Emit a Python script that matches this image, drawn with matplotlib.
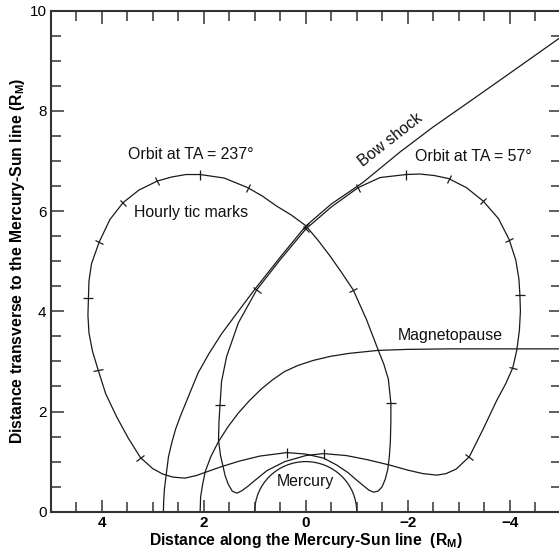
import matplotlib
matplotlib.use("Agg")
import matplotlib.pyplot as plt
import numpy as np
from matplotlib import font_manager
from matplotlib.markers import MarkerStyle
from matplotlib.patches import Arc
from matplotlib.transforms import Affine2D


def have_font(name):
    try:
        font_manager.findfont(font_manager.FontProperties(family=name), fallback_to_default=False)
        return True
    except ValueError:
        return False


NARROW = have_font("Liberation Sans Narrow")
if NARROW:
    FONT, NOTE_SIZE, LABEL_SIZE = "Liberation Sans Narrow", 13.4, 13.3
else:
    FONT, NOTE_SIZE, LABEL_SIZE = "Liberation Sans", 11.4, 11.3
TICK_FONT = "Liberation Sans"

plt.rcParams["mathtext.fontset"] = "custom"
plt.rcParams["mathtext.rm"] = FONT
plt.rcParams["mathtext.bf"] = FONT + ":bold"

LINE = "#1a1a1a"
AXC = "#333333"

# orbit at TA = 237 deg (dayside apoapsis)
ta237_x = [2.07, 2.35, 2.63, 2.91, 3.27, 3.58, 3.84, 4.05, 4.20, 4.25, 4.26, 4.27, 4.25,
           4.18, 4.07, 3.92, 3.71, 3.48, 3.24, 3.00, 2.80, 2.60, 2.37, 2.15, 1.90, 1.65,
           1.30, 0.90, 0.37, 0.00, -0.35, -0.61, -0.83, -1.00, -1.13, -1.24, -1.33,
           -1.42, -1.50, -1.56, -1.61, -1.64, -1.66, -1.67, -1.67, -1.62, -1.53, -1.42,
           -1.19, -0.93, -0.70, -0.48, -0.24, 0.00, 0.28, 0.57, 0.85, 1.14, 1.60, 2.07]
ta237_y = [6.73, 6.73, 6.68, 6.60, 6.42, 6.17, 5.83, 5.38, 4.95, 4.60, 4.27, 3.92, 3.57,
           3.20, 2.83, 2.35, 1.90, 1.47, 1.08, 0.86, 0.75, 0.69, 0.67, 0.72, 0.81, 0.90,
           1.01, 1.11, 1.18, 1.15, 1.07, 0.93, 0.78, 0.63, 0.52, 0.43, 0.39,
           0.41, 0.50, 0.65, 0.85, 1.10, 1.40, 1.80, 2.17, 2.65, 2.95, 3.23,
           3.84, 4.43, 4.78, 5.10, 5.42, 5.71, 5.92, 6.10, 6.30, 6.47, 6.66, 6.73]
ta237_hours = [0, 3, 5, 7, 10, 14, 18, 28, 44, 49, 53, 57]

# orbit at TA = 57 deg (nightside apoapsis)
ta57_x = [-1.97, -2.24, -2.52, -2.80, -3.15, -3.48, -3.78, -3.99, -4.12, -4.18, -4.20,
          -4.21, -4.19, -4.14, -4.06, -3.92, -3.75, -3.48, -3.21, -2.95, -2.75, -2.57,
          -2.30, -2.00, -1.65, -1.20, -0.80, -0.35, 0.00, 0.41, 0.76, 0.99, 1.13, 1.25,
          1.35, 1.44, 1.52, 1.58, 1.62, 1.67, 1.71, 1.70, 1.68, 1.65, 1.55, 1.32, 0.96,
          0.50, 0.00, -0.50, -1.03, -1.46, -1.97]
ta57_y = [6.73, 6.74, 6.71, 6.65, 6.47, 6.20, 5.85, 5.43, 5.02, 4.65, 4.33,
          4.00, 3.62, 3.23, 2.87, 2.55, 2.23, 1.65, 1.10, 0.85, 0.76, 0.73,
          0.76, 0.83, 0.93, 1.04, 1.12, 1.16, 1.12, 1.00, 0.82, 0.63, 0.51, 0.42,
          0.37, 0.41, 0.55, 0.72, 0.90, 1.12, 1.43, 1.80, 2.13, 2.60, 3.10, 3.77, 4.43,
          5.03, 5.64, 6.08, 6.47, 6.67, 6.73]
ta57_hours = [0, 3, 5, 7, 10, 14, 18, 27, 42, 46, 48, 50]

bow_x = [2.79, 2.785, 2.77, 2.73, 2.69, 2.62, 2.55, 2.46, 2.30, 2.11, 1.90, 1.65, 1.30,
         0.99, 0.50, 0.00, -0.50, -1.12, -1.85, -2.50, -3.19, -4.00, -5.00]
bow_y = [0.00, 0.20, 0.45, 0.78, 1.10, 1.40, 1.65, 1.90, 2.30, 2.77, 3.15, 3.55, 4.03,
         4.45, 5.08, 5.70, 6.14, 6.57, 7.18, 7.68, 8.17, 8.75, 9.47]

mp_x = [2.07, 2.06, 2.02, 1.97, 1.86, 1.71, 1.52, 1.32, 1.10, 0.87, 0.64, 0.41, 0.15,
        -0.15, -0.48, -0.85, -1.42, -2.00, -2.80, -5.00]
mp_y = [0.00, 0.30, 0.55, 0.80, 1.10, 1.40, 1.70, 1.97, 2.22, 2.45, 2.64, 2.80, 2.92,
        3.02, 3.10, 3.16, 3.22, 3.24, 3.25, 3.25]

mercury_radius = 1.0

notes = [
    ("Orbit at TA = 237\u00b0", 2.26, 7.12, 0),
    ("Hourly tic marks", 2.25, 5.97, 0),
    ("Bow shock", -1.66, 7.43, 38),
    ("Orbit at TA = 57\u00b0", -3.28, 7.08, 0),
    ("Magnetopause", -2.84, 3.52, 0),
    ("Mercury", 0.0, 0.60, 0),
]

fig = plt.figure(figsize=(5.59, 5.51), dpi=100)
ax = fig.add_axes([50.7 / 559, 39.3 / 551, 510 / 559, 501 / 551])
ax.set_xlim(5, -5)
ax.set_ylim(0, 10)

for xs, ys in [(ta237_x, ta237_y), (ta57_x, ta57_y), (bow_x, bow_y), (mp_x, mp_y)]:
    ax.plot(xs, ys, color=LINE, lw=0.9, solid_joinstyle="round")

ax.add_patch(Arc((0, 0), 2 * mercury_radius, 2 * mercury_radius, theta1=0, theta2=180,
                 color=LINE, lw=0.9))


def hour_ticks(xs, ys, idx):
    pts = ax.transData.transform(np.column_stack([xs, ys]))
    for i in idx:
        d = pts[min(i + 1, len(pts) - 1)] - pts[max(i - 1, 0)]
        ang = np.degrees(np.arctan2(d[1], d[0]))
        ax.plot(xs[i], ys[i], ls="none", color=LINE,
                marker=MarkerStyle("|", transform=Affine2D().rotate_deg(ang)),
                markersize=6.8, markeredgewidth=0.9)


hour_ticks(ta237_x, ta237_y, ta237_hours)
hour_ticks(ta57_x, ta57_y, ta57_hours)

for txt, x, y, rot in notes:
    ax.text(x, y, txt, ha="center", va="center", rotation=rot, family=FONT,
            fontsize=NOTE_SIZE, color="#111111", rotation_mode="anchor")

ax.set_xticks([4, 2, 0, -2, -4])
ax.set_xticks(np.arange(-5, 5.01, 0.5), minor=True)
ax.set_yticks([0, 2, 4, 6, 8, 10])
ax.set_yticks(np.arange(0, 10.01, 0.5), minor=True)
ax.tick_params(which="both", direction="in", top=True, right=True, color=AXC, width=1.1)
ax.tick_params(which="major", length=9, pad=3)
ax.tick_params(which="minor", length=7.2)
for lab in ax.get_xticklabels():
    lab.set_family(TICK_FONT)
    lab.set_fontweight("bold")
    lab.set_fontsize(11)
for lab in ax.get_yticklabels():
    lab.set_family(TICK_FONT)
    lab.set_fontsize(11)
for sp in ax.spines.values():
    sp.set_color(AXC)
    sp.set_linewidth(1.5)

ax.set_xlabel("Distance along the Mercury-Sun line  (R$_\\mathbf{M}$)", family=FONT,
              fontweight="bold", fontsize=LABEL_SIZE, labelpad=1)
ax.set_ylabel("Distance transverse to the Mercury-Sun line (R$_\\mathbf{M}$)", family=FONT,
              fontweight="bold", fontsize=LABEL_SIZE, labelpad=2)

fig.savefig("out.png", dpi=100)
